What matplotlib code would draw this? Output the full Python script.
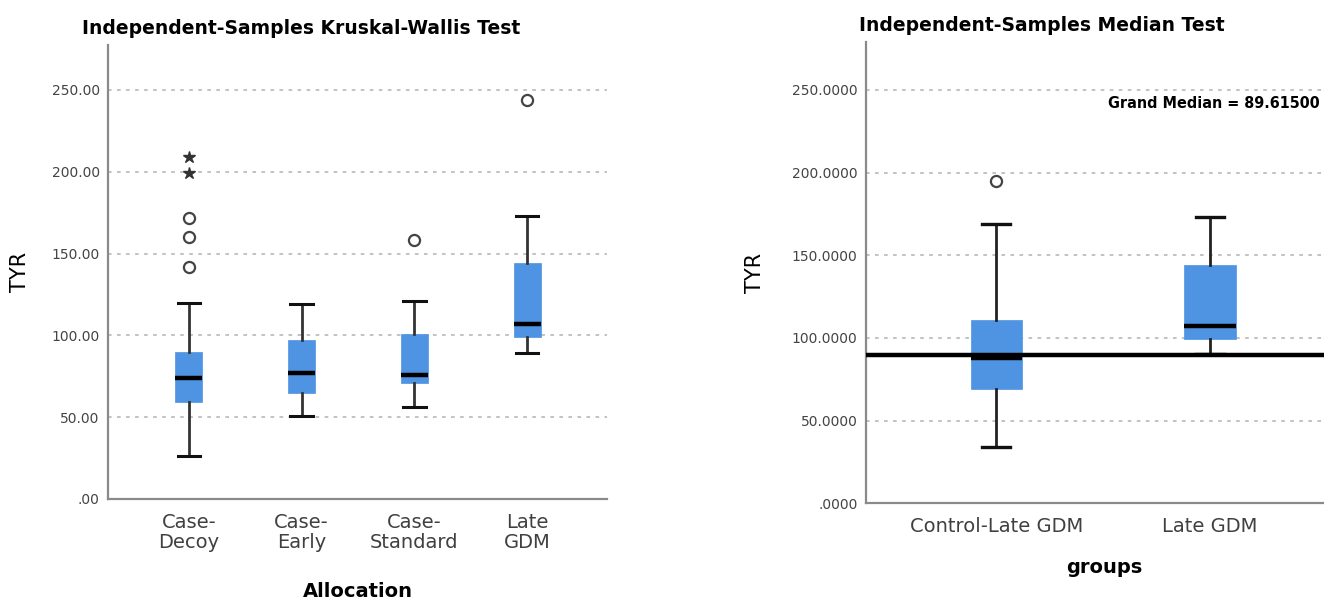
import matplotlib.pyplot as plt
import numpy as np

# ---- data ----
alloc_labels = ["Case-\nDecoy", "Case-\nEarly", "Case-\nStandard", "Late\nGDM"]
alloc_whislo = [26, 51, 56, 89]
alloc_q1 = [59, 65, 71, 99]
alloc_med = [74, 77, 76, 107]
alloc_q3 = [90, 97, 101, 144]
alloc_whishi = [120, 119, 121, 173]
alloc_outliers = [[142, 160, 172], [], [158], [244]]
alloc_extremes = [[199, 209], [], [], []]

group_labels = ["Control-Late GDM", "Late GDM"]
group_whislo = [34, 90]
group_q1 = [69, 99]
group_med = [88, 107]
group_q3 = [111, 144]
group_whishi = [169, 173]
group_outliers = [[195], []]
grand_median = 89.615

BOX_COLOR = "#4F93E3"
GRID_COLOR = "#BDBDBD"
SPINE_COLOR = "#8A8A8A"


def make_stats(labels, lo, q1, med, q3, hi, outs):
    stats = []
    for i in range(len(labels)):
        stats.append({"label": labels[i], "whislo": lo[i], "q1": q1[i],
                      "med": med[i], "q3": q3[i], "whishi": hi[i],
                      "fliers": outs[i]})
    return stats


def style_axis(ax, ticks, fmt):
    ax.spines["top"].set_visible(False)
    ax.spines["right"].set_visible(False)
    for s in ["left", "bottom"]:
        ax.spines[s].set_color(SPINE_COLOR)
        ax.spines[s].set_linewidth(1.6)
    ax.set_yticks(ticks)
    ax.set_yticklabels([fmt(t) for t in ticks], color="#444444", fontsize=10)
    ax.tick_params(axis="both", length=0)
    ax.tick_params(axis="y", pad=6)
    for t in ticks[1:]:
        ax.axhline(t, color=GRID_COLOR, linestyle=(0, (2, 3)), linewidth=1.3, zorder=0)


fig = plt.figure(figsize=(13.24, 5.99), dpi=100)

# ---- left panel: Kruskal-Wallis ----
ax1 = fig.add_axes([0.0816, 0.167, 0.377, 0.758])
pos1 = np.arange(len(alloc_labels))
ax1.bxp(make_stats(alloc_labels, alloc_whislo, alloc_q1, alloc_med, alloc_q3,
                   alloc_whishi, alloc_outliers),
        positions=pos1, widths=0.24, patch_artist=True, showfliers=True,
        boxprops=dict(facecolor=BOX_COLOR, edgecolor=BOX_COLOR, linewidth=0.5),
        medianprops=dict(color="black", linewidth=3.2, solid_capstyle="butt"),
        whiskerprops=dict(color="#333333", linewidth=2),
        capprops=dict(color="#111111", linewidth=2.2),
        capwidths=0.2,
        flierprops=dict(marker="o", markerfacecolor="white", markeredgecolor="#444444",
                        markersize=8, markeredgewidth=1.6))
for i, ext in enumerate(alloc_extremes):
    if ext:
        ax1.plot([pos1[i]] * len(ext), ext, linestyle="none", marker="*",
                 color="#333333", markersize=9)
ax1.set_xlim(-0.717, 3.71)
ax1.set_ylim(0, 277.5)
style_axis(ax1, [0, 50, 100, 150, 200, 250],
           lambda t: ".00" if t == 0 else f"{t:.2f}")
ax1.set_xticks(pos1)
ax1.set_xticklabels(alloc_labels, fontsize=14, color="#404040", linespacing=1.05)
ax1.tick_params(axis="x", pad=10)
ax1.set_ylabel("TYR", fontsize=15)
ax1.yaxis.set_label_coords(-0.156, 0.5)
ax1.set_xlabel("Allocation", fontsize=14, fontweight="bold", labelpad=22)
fig.text(0.062, 0.953, "Independent-Samples Kruskal-Wallis Test",
         fontsize=13.5, fontweight="bold", va="center", ha="left")

# ---- right panel: Median test ----
ax2 = fig.add_axes([0.654, 0.160, 0.36, 0.77])
pos2 = np.arange(len(group_labels))
ax2.bxp(make_stats(group_labels, group_whislo, group_q1, group_med, group_q3,
                   group_whishi, group_outliers),
        positions=pos2, widths=0.24, patch_artist=True, showfliers=True,
        boxprops=dict(facecolor=BOX_COLOR, edgecolor=BOX_COLOR, linewidth=0.5),
        medianprops=dict(color="black", linewidth=3.2, solid_capstyle="butt"),
        whiskerprops=dict(color="#222222", linewidth=2),
        capprops=dict(color="#111111", linewidth=2.4),
        capwidths=0.13,
        flierprops=dict(marker="o", markerfacecolor="white", markeredgecolor="#444444",
                        markersize=8, markeredgewidth=1.6))
ax2.axhline(grand_median, color="black", linewidth=3.2, zorder=4)
ax2.set_xlim(-0.61, 1.62)
ax2.set_ylim(0, 279)
style_axis(ax2, [0, 50, 100, 150, 200, 250],
           lambda t: ".0000" if t == 0 else f"{t:.4f}")
ax2.set_xticks(pos2)
ax2.set_xticklabels(group_labels, fontsize=14, color="#404040")
ax2.tick_params(axis="x", pad=10)
ax2.set_ylabel("TYR", fontsize=15)
ax2.yaxis.set_label_coords(-0.212, 0.5)
ax2.set_xlabel("groups", fontsize=14, fontweight="bold", labelpad=16)
ax2.text(0.997, 0.828, f"Grand Median = {grand_median:.5f}", transform=fig.transFigure,
         ha="right", va="center", fontsize=11.5, fontweight="bold",
         family="DejaVu Sans", fontstretch="condensed")
fig.text(0.649, 0.958, "Independent-Samples Median Test",
         fontsize=13.5, fontweight="bold", va="center", ha="left")

fig.savefig("out.png", dpi=100)
